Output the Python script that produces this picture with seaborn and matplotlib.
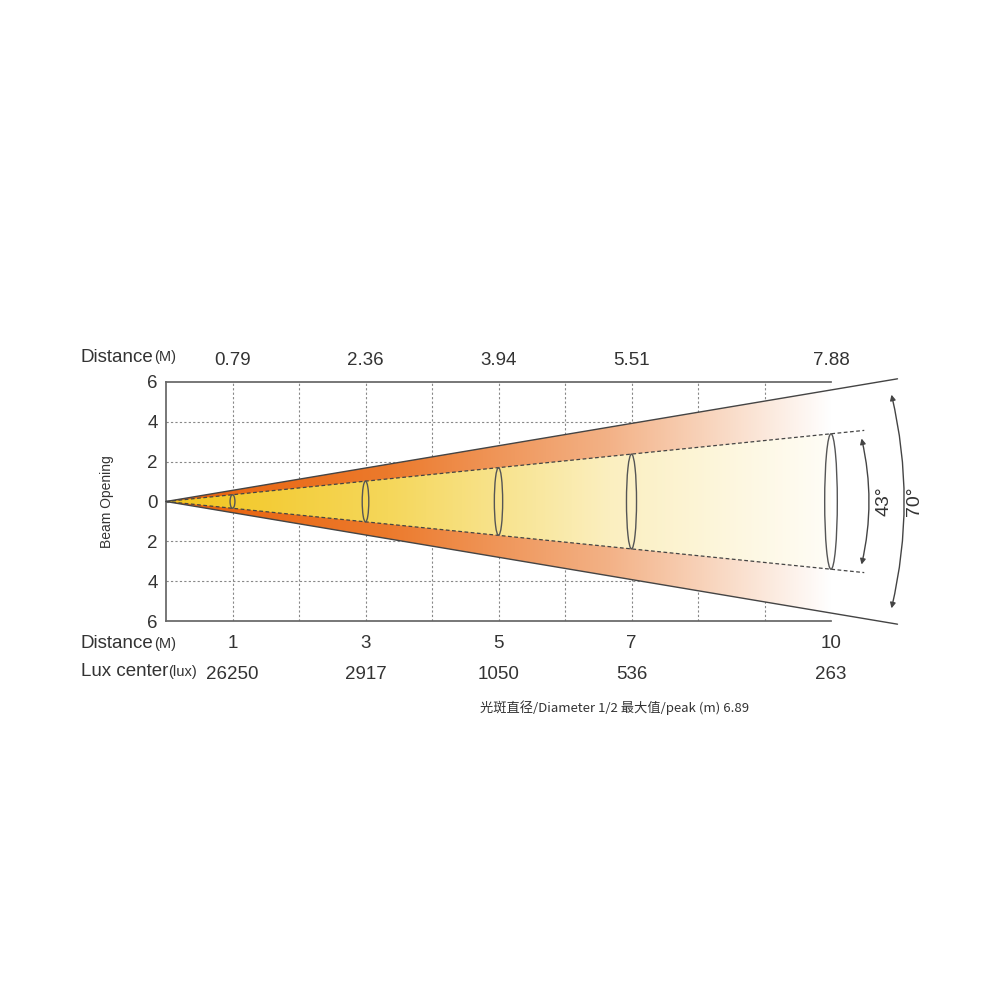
import numpy as np
import matplotlib.pyplot as plt
import seaborn as sns
from matplotlib.patches import Polygon, Ellipse, FancyArrowPatch
from matplotlib.colors import LinearSegmentedColormap

sns.set_theme(style="white")
plt.rcParams['font.family'] = ['Liberation Sans', 'Noto Sans CJK SC']

distance = [1, 3, 5, 7, 10]
diameter = ["0.79", "2.36", "3.94", "5.51", "7.88"]
lux = ["26250", "2917", "1050", "536", "263"]
yticks = [-6, -4, -2, 0, 2, 4, 6]
outer_slope = 0.56   # half-width per metre, 70° field
inner_slope = 0.34   # half-width per metre, 43° beam

fig = plt.figure(figsize=(10, 10), dpi=100)
ax = fig.add_axes([0.166, 0.379, 0.665, 0.239])
ax.set_xlim(0, 10)
ax.set_ylim(-6, 6)
ax.set_yticks(yticks)
ax.set_yticklabels([str(abs(v)) for v in yticks], fontsize=13.5, color="#333")
ax.set_xticks(range(1, 11))
ax.set_xticklabels([])
ax.tick_params(length=0, pad=6)
for y in [-4, -2, 0, 2, 4]:
    ax.axhline(y, color="#888", ls=(0, (2, 2)), lw=0.8, zorder=0)
for x in range(1, 11):
    ax.axvline(x, color="#888", ls=(0, (2, 2)), lw=0.8, zorder=0)
for s in ["left", "bottom", "top"]:
    ax.spines[s].set_color("#666")
ax.spines["right"].set_visible(False)
ax.set_ylabel("Beam Opening", fontsize=10, color="#333", labelpad=24)

# gradient fills
xs = np.linspace(0, 1, 256)
outer_cmap = LinearSegmentedColormap.from_list("o", ["#e8600a", "#ec7a2c", "#f3b287", "#ffffff"])
inner_cmap = LinearSegmentedColormap.from_list("i", ["#f2c41c", "#f5d75a", "#fbefc0", "#fffdf7"])
xe = 10
outer = Polygon([(0, 0), (xe, outer_slope * xe), (xe, -outer_slope * xe)], closed=True,
                transform=ax.transData, facecolor="none", edgecolor="none")
inner = Polygon([(0, 0), (xe, inner_slope * xe), (xe, -inner_slope * xe)], closed=True,
                transform=ax.transData, facecolor="none", edgecolor="none")
ax.add_patch(outer)
ax.add_patch(inner)
im1 = ax.imshow(xs[None, :], extent=[0, xe, -6, 6], aspect="auto", cmap=outer_cmap, zorder=1)
im1.set_clip_path(outer)
im2 = ax.imshow(xs[None, :], extent=[0, xe, -6, 6], aspect="auto", cmap=inner_cmap, zorder=2)
im2.set_clip_path(inner)

# cone edges
xo = np.array([0, 11])
ax.plot(xo, outer_slope * xo, color="#444", lw=1, clip_on=False, zorder=3)
ax.plot(xo, -outer_slope * xo, color="#444", lw=1, clip_on=False, zorder=3)
xi = np.array([0, 10.5])
ax.plot(xi, inner_slope * xi, color="#444", lw=0.9, ls=(0, (3, 2)), clip_on=False, zorder=3)
ax.plot(xi, -inner_slope * xi, color="#444", lw=0.9, ls=(0, (3, 2)), clip_on=False, zorder=3)

# spot ellipses
for d in distance:
    ax.add_patch(Ellipse((d, 0), 0.06 + 0.013 * d, 2 * inner_slope * d, fill=False,
                         edgecolor="#555", lw=1, zorder=4, clip_on=False))

# angle arrows
ax.add_patch(FancyArrowPatch((10.45, 3.3), (10.45, -3.3), arrowstyle="<|-|>", mutation_scale=8,
                             connectionstyle="arc3,rad=-0.12", color="#444", lw=1, clip_on=False))
ax.add_patch(FancyArrowPatch((10.9, 5.5), (10.9, -5.5), arrowstyle="<|-|>", mutation_scale=8,
                             connectionstyle="arc3,rad=-0.12", color="#444", lw=1, clip_on=False))
ax.text(10.8, 0, "43°", rotation=90, ha="center", va="center", fontsize=14, color="#333")
ax.text(11.25, 0, "70°", rotation=90, ha="center", va="center", fontsize=14, color="#333")

# labels around chart
tr = ax.get_xaxis_transform()
for d, dia, lx in zip(distance, diameter, lux):
    ax.text(d, 1.09, dia, transform=tr, ha="center", va="center", fontsize=13.5, color="#333")
    ax.text(d, -0.095, str(d), transform=tr, ha="center", va="center", fontsize=13.5, color="#333")
    ax.text(d, -0.225, lx, transform=tr, ha="center", va="center", fontsize=13.5, color="#333")

def row_label(y, main, unit):
    t = fig.text(0.081, y, main, ha="left", va="center", fontsize=13.5, color="#333")
    fig.canvas.draw()
    bb = t.get_window_extent()
    fig.text(bb.x1 / 1000, y, unit, ha="left", va="center", fontsize=10.5, color="#333")

row_label(0.643, "Distance", "(M)")
row_label(0.356, "Distance", "(M)")
row_label(0.328, "Lux center", "(lux)")

fig.text(0.48, 0.292, "光斑直径/Diameter 1/2 最大值/peak (m) 6.89", ha="left", va="center",
         fontsize=9.5, color="#333", family=['Noto Sans CJK SC', 'DejaVu Sans'])

fig.savefig("out.png", dpi=100, facecolor="white")
